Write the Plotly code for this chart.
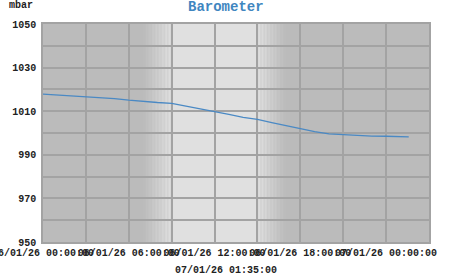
import plotly.graph_objects as go
import pandas as pd
import numpy as np

# ---- data ----
start = pd.Timestamp("2026-01-06 00:00:00")
hours = [0, 1, 2, 3, 4, 5, 6, 7, 8, 9, 10, 11, 12, 13, 14, 15, 16, 17, 18,
         19, 20, 21, 22, 23, 24, 25, 25.583]
pressure = [1017.8, 1017.4, 1017.0, 1016.7, 1016.3, 1015.8, 1015.1, 1014.4,
            1014.0, 1013.6, 1012.4, 1011.0, 1009.8, 1008.5, 1007.2, 1006.3,
            1004.8, 1003.3, 1002.0, 1000.6, 999.6, 999.2, 998.9, 998.6,
            998.5, 998.3, 998.2]
times = [start + pd.Timedelta(hours=h) for h in hours]
title_text = "Barometer"
unit_text = "mbar"
last_time_text = "07/01/26 01:35:00"

x_start = start
x_end = start + pd.Timedelta(hours=27)

# day/night shading (style)
dark = np.array([0xBB, 0xBB, 0xBB])
light = np.array([0xE0, 0xE0, 0xE0])
shapes = []
def rect(t0, t1, col):
    shapes.append(dict(type="rect", xref="x", yref="paper",
                       x0=t0, x1=t1, y0=0, y1=1, layer="below",
                       line=dict(width=0),
                       fillcolor="rgb(%d,%d,%d)" % tuple(col)))

n = 20
def grad(h0, h1, c0, c1):
    for i in range(n):
        f = (i + 0.5) / n
        c = (c0 + (c1 - c0) * f).round().astype(int)
        t0 = start + pd.Timedelta(hours=h0 + (h1 - h0) * i / n)
        t1 = start + pd.Timedelta(hours=h0 + (h1 - h0) * (i + 1) / n)
        rect(t0, t1, c)

grad(7.0, 9.0, dark, light)
rect(start + pd.Timedelta(hours=9), start + pd.Timedelta(hours=15), light)
grad(15.0, 17.0, light, dark)

fig = go.Figure()
fig.add_trace(go.Scatter(x=times, y=pressure, mode="lines",
                         line=dict(color="#4a89c4", width=1.3),
                         hoverinfo="skip"))

grid = "#a3a3a3"
font_mono = "Liberation Mono"
txt = "#222222"
fig.update_layout(
    width=451, height=275,
    margin=dict(l=43, r=22, t=24, b=33),
    paper_bgcolor="white",
    plot_bgcolor="#bbbbbb",
    showlegend=False,
    shapes=shapes,
    font=dict(family=font_mono, size=10, color=txt),
    xaxis=dict(
        type="date",
        range=[x_start, x_end],
        tick0=x_start, dtick=6 * 3600 * 1000,
        tickformat="%d/%m/%y %H:%M:%S",
        tickangle=0,
        ticklabeloverflow="allow",
        automargin=False,
        showgrid=True, gridcolor=grid, gridwidth=1.5,
        minor=dict(dtick=3 * 3600 * 1000, tick0=x_start, showgrid=True,
                   gridcolor=grid, gridwidth=1.5),
        ticks="", showline=True, linecolor=grid, linewidth=1.5, mirror=True,
        zeroline=False,
        tickfont=dict(family=font_mono, size=10, color=txt, weight="bold"),
    ),
    yaxis=dict(
        range=[950, 1050],
        tick0=950, dtick=20,
        automargin=False,
        showgrid=True, gridcolor=grid, gridwidth=1.5,
        minor=dict(dtick=10, tick0=950, showgrid=True, gridcolor=grid,
                   gridwidth=1.5),
        ticks="", showline=True, linecolor=grid, linewidth=1.5, mirror=True,
        zeroline=False, ticklabelstandoff=3,
        tickfont=dict(family=font_mono, size=10, color=txt, weight="bold"),
    ),
    annotations=[
        dict(text="<b>" + title_text + "</b>", xref="paper", yref="paper",
             x=(225.5 - 43) / 386, y=1, yshift=17, showarrow=False,
             xanchor="center", yanchor="middle",
             font=dict(family=font_mono, size=14, color="#3f86c0")),
        dict(text="<b>" + unit_text + "</b>", xref="paper", yref="paper",
             x=(21 - 43) / 386, y=1, yshift=19, showarrow=False,
             xanchor="center", yanchor="middle",
             font=dict(family=font_mono, size=10, color=txt)),
        dict(text=last_time_text, xref="paper", yref="paper",
             x=(226 - 43) / 386, y=0, yshift=-28, showarrow=False,
             xanchor="center", yanchor="middle",
             font=dict(family=font_mono, size=10, color=txt, weight="bold")),
    ],
)

fig.write_html("out.html")
